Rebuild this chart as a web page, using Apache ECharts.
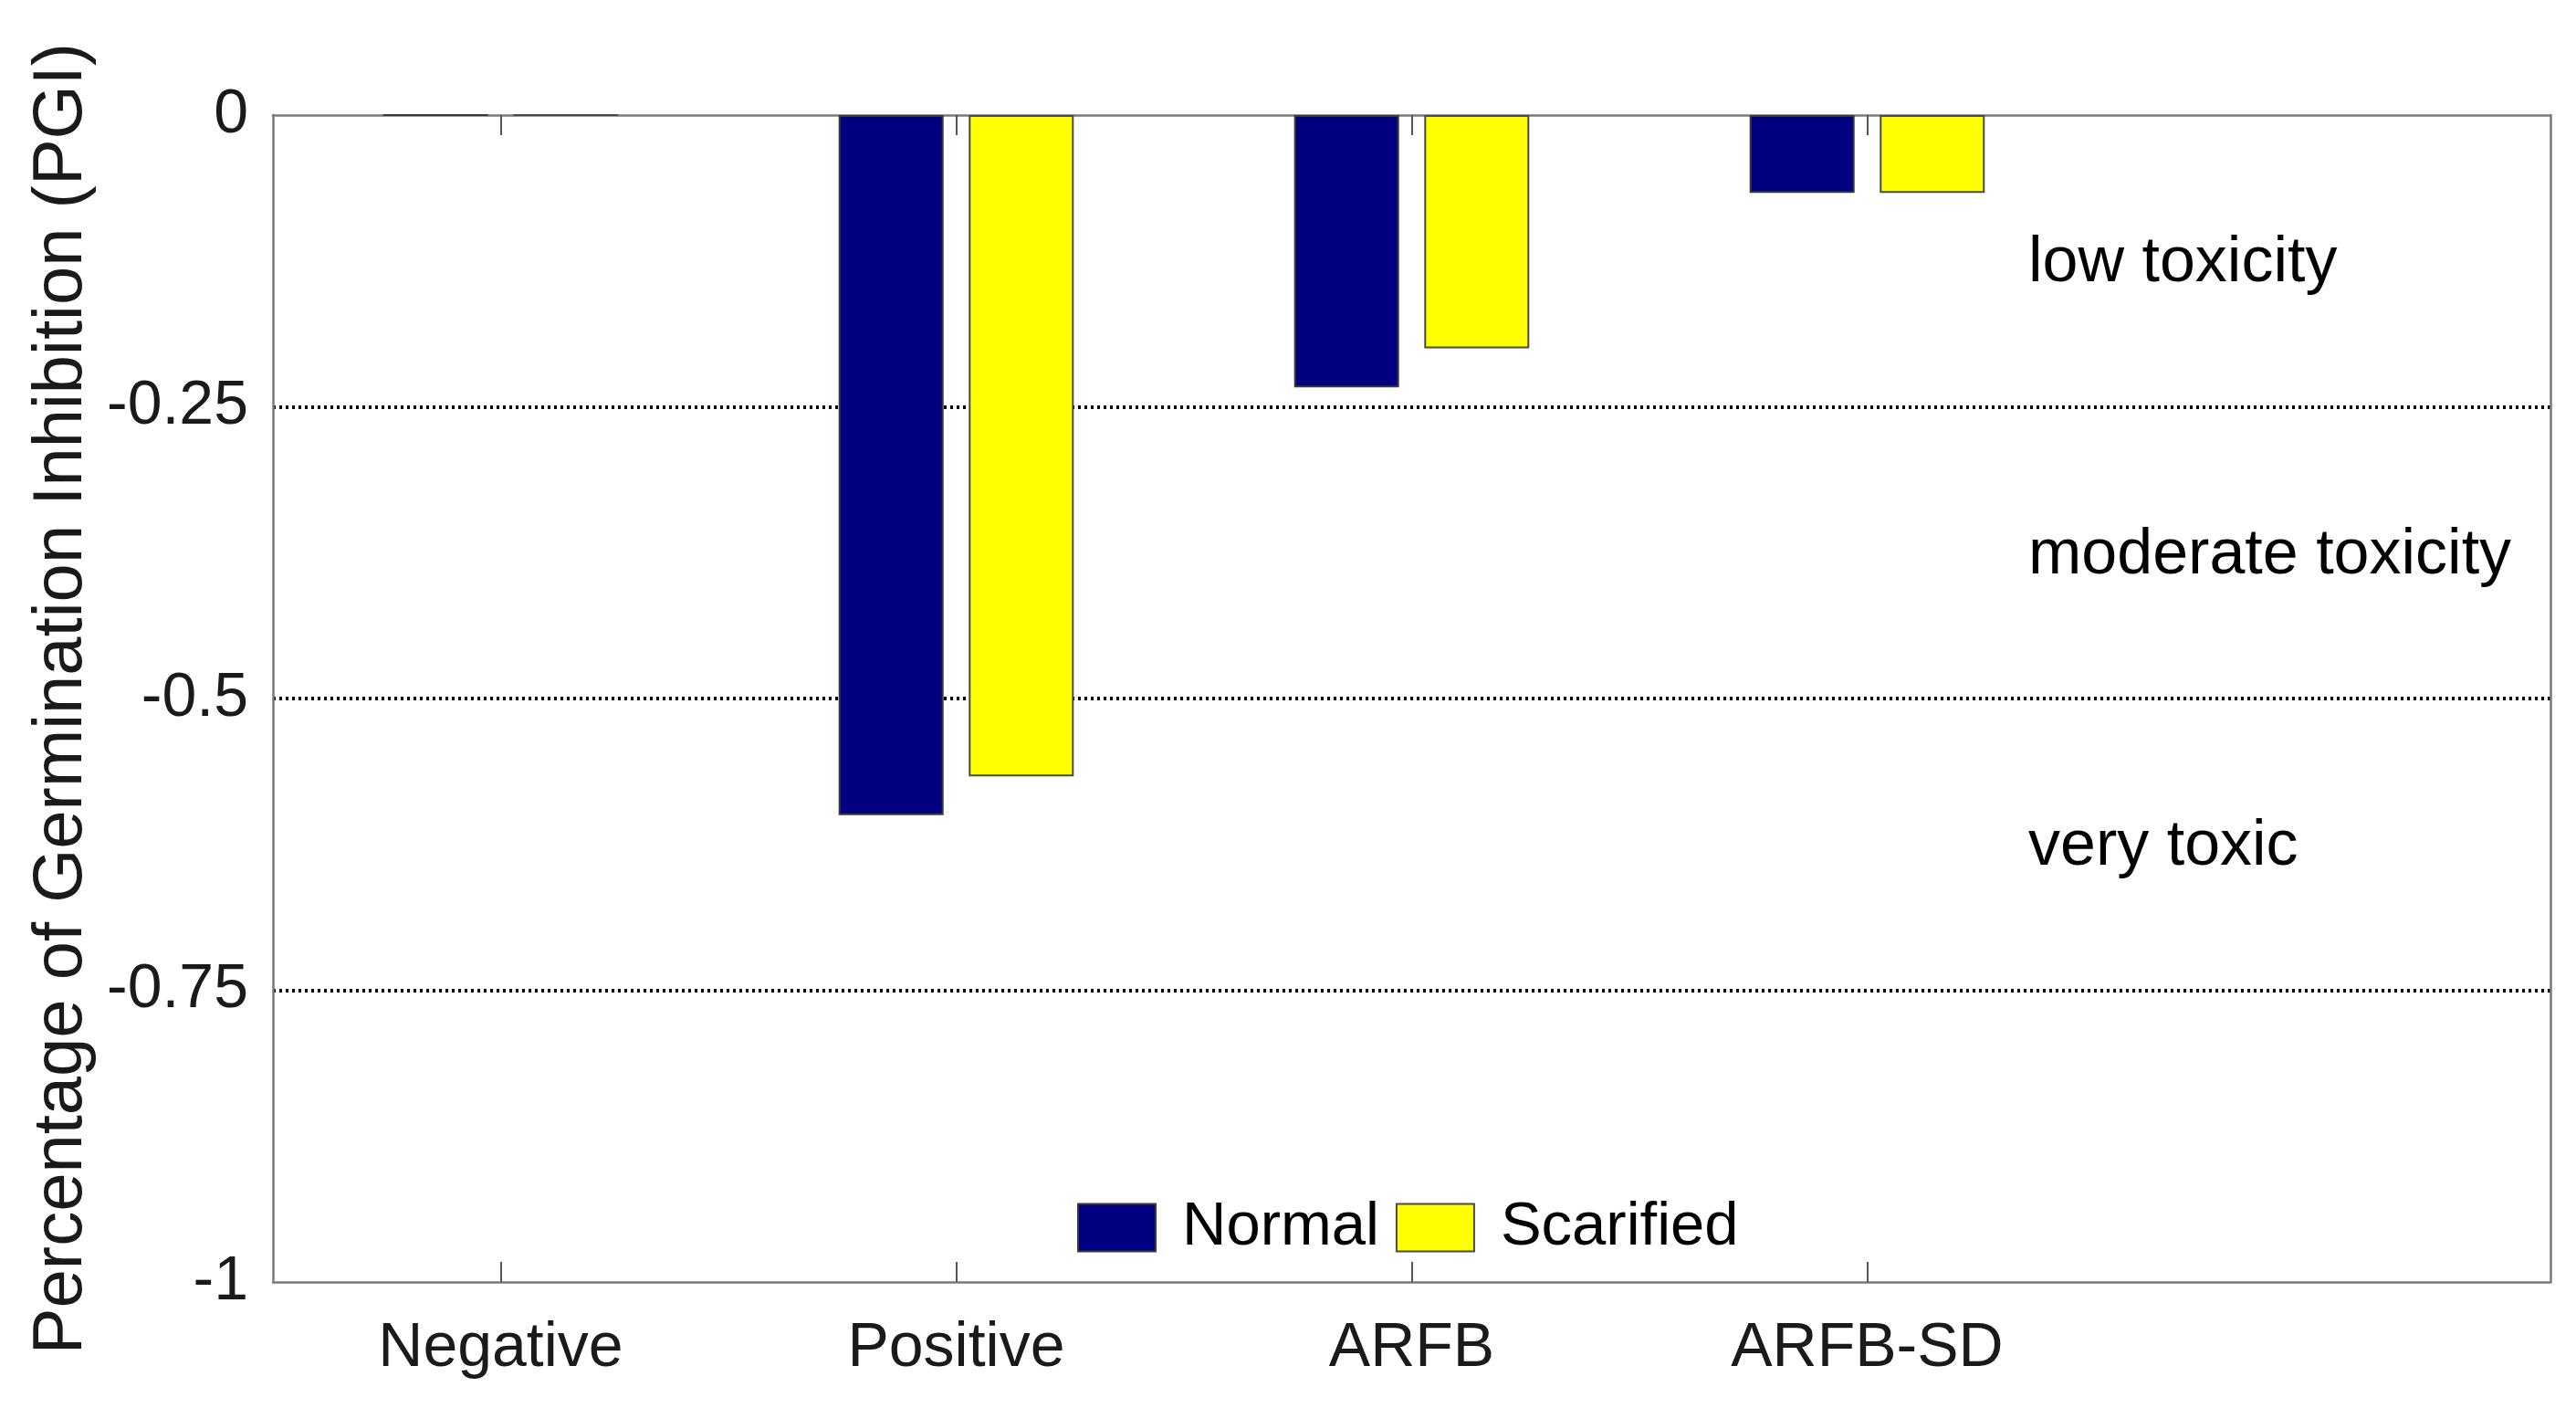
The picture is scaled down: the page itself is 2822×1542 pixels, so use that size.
<!DOCTYPE html>
<html>
<head>
<meta charset="utf-8">
<script src="https://cdn.jsdelivr.net/npm/echarts@6/dist/echarts.min.js"></script>
<style>
html,body{margin:0;padding:0;background:#fff;}
#chart{width:2822px;height:1542px;}
</style>
</head>
<body>
<div id="chart"></div>
<script>
const categories = ['Negative', 'Positive', 'ARFB', 'ARFB-SD', ''];
const normalValues = [0, -0.6, -0.2333, -0.0667];
const scarifiedValues = [0, -0.5667, -0.2, -0.0667];
const seriesNames = ['Normal', 'Scarified'];
const zoneLabels = ['low toxicity', 'moderate toxicity', 'very toxic'];
const zoneLabelValues = [-0.125, -0.375, -0.625];
const yMin = -1, yMax = 0, yInterval = 0.25;

const FONT = '"Liberation Sans", Arial, Helvetica, sans-serif';
const TXT = '#1a1a1a';
const AX = '#7a7a7a';

const chart = echarts.init(document.getElementById('chart'), null, {renderer: 'canvas'});

const grid = {left: 299, right: 2822 - 2794, top: 126, bottom: 1542 - 1404, containLabel: false};

const option = {
  backgroundColor: '#ffffff',
  animation: false,
  grid: grid,
  legend: {
    data: seriesNames,
    left: 1180,
    top: 1311,
    padding: 0,
    itemWidth: 85,
    itemHeight: 52,
    itemGap: 18,
    icon: 'rect',
    textStyle: {fontFamily: FONT, fontSize: 67, color: '#000', padding: [0, 0, 0, 24], lineHeight: 52}
  },
  xAxis: [{
    type: 'category',
    data: categories,
    position: 'bottom',
    boundaryGap: true,
    axisLine: {show: true, onZero: false, lineStyle: {color: AX, width: 2.5}},
    axisTick: {show: true, inside: true, length: 22, alignWithLabel: true,
      interval: function (i) { return i < 4; },
      lineStyle: {color: '#555', width: 2}},
    axisLabel: {fontFamily: FONT, fontSize: 68, color: TXT, margin: 39, interval: 0},
    splitLine: {show: false}
  }, {
    type: 'category',
    data: categories,
    position: 'top',
    boundaryGap: true,
    axisLine: {show: true, onZero: false, lineStyle: {color: AX, width: 2.5}},
    axisTick: {show: true, inside: true, length: 22, alignWithLabel: true,
      interval: function (i) { return i < 4; },
      lineStyle: {color: '#555', width: 2}},
    axisLabel: {show: false},
    splitLine: {show: false}
  }],
  yAxis: [{
    type: 'value',
    min: yMin, max: yMax, interval: yInterval,
    position: 'left',
    name: 'Percentage of Germination Inhibition (PGI)',
    nameLocation: 'middle',
    nameGap: 190,
    nameTextStyle: {fontFamily: FONT, fontSize: 76, color: TXT},
    axisLine: {show: true, onZero: false, lineStyle: {color: AX, width: 2.5}},
    axisTick: {show: false},
    axisLabel: {fontFamily: FONT, fontSize: 68, color: TXT, margin: 27},
    splitLine: {show: true, showMinLine: false, showMaxLine: false,
      lineStyle: {color: '#000', width: 4, type: [3, 4]}}
  }, {
    type: 'value',
    min: yMin, max: yMax, interval: yInterval,
    position: 'right',
    axisLine: {show: true, onZero: false, lineStyle: {color: AX, width: 2.5}},
    axisTick: {show: false},
    axisLabel: {show: false},
    splitLine: {show: false}
  }],
  series: [{
    name: seriesNames[0],
    type: 'bar',
    data: normalValues,
    barWidth: 115,
    barGap: '24%',
    itemStyle: {color: '#000080', borderColor: '#3a3a3a', borderWidth: 2}
  }, {
    name: seriesNames[1],
    type: 'bar',
    data: scarifiedValues,
    barWidth: 115,
    barGap: '24%',
    itemStyle: {color: '#ffff00', borderColor: '#4a4a4a', borderWidth: 2}
  }]
};

chart.setOption(option);

const texts = zoneLabels.map(function (t, i) {
  const py = chart.convertToPixel({yAxisIndex: 0}, zoneLabelValues[i]);
  return {
    type: 'text',
    left: 2222,
    top: py - 32,
    style: {text: t, fontFamily: FONT, fontSize: 70, fill: '#000', textVerticalAlign: 'top'}
  };
});
chart.setOption({graphic: texts});
</script>
</body>
</html>
